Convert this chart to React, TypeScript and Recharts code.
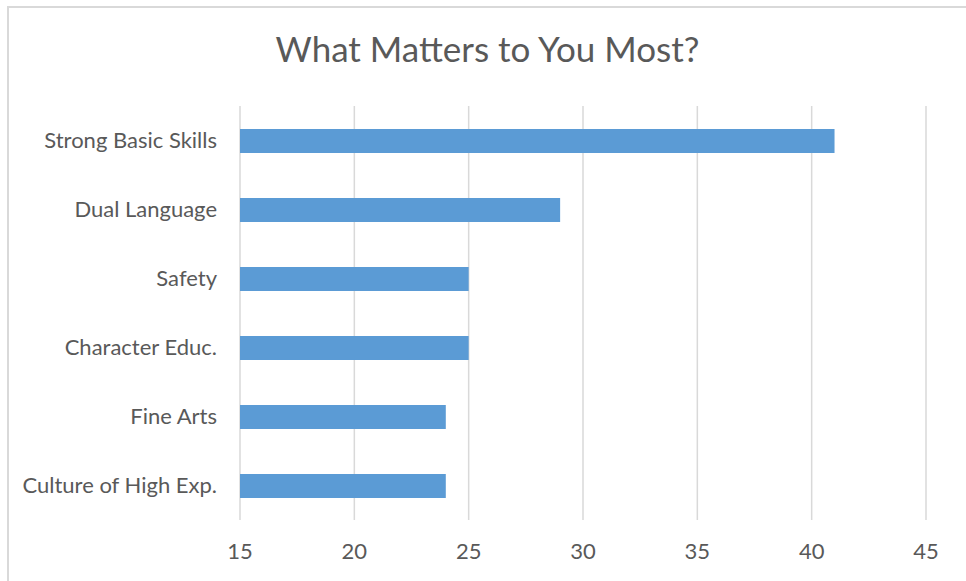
import { BarChart, Bar, XAxis, YAxis, CartesianGrid } from 'recharts'

const categories = ['Strong Basic Skills', 'Dual Language', 'Safety', 'Character Educ.', 'Fine Arts', 'Culture of High Exp.']
const values = [41, 29, 25, 25, 24, 24]
const xTicks = [15, 20, 25, 30, 35, 40, 45]

const data = categories.map((name, i) => ({ name, value: values[i] }))

const TEXT = '#595959'
const GRID = '#d9d9d9'
const FONT = 'Lato, sans-serif'

export default function App() {
  return (
    <div
      style={{
        position: 'fixed',
        left: 7,
        top: 6,
        width: 959,
        height: 575,
        borderTop: `2px solid ${GRID}`,
        borderLeft: `2px solid ${GRID}`,
        background: '#fff',
        fontFamily: FONT,
      }}
    >
      {/* title sits over the chart as plain html */}
      <div
        style={{
          position: 'absolute',
          left: 0,
          width: 957,
          top: 23,
          textAlign: 'center',
          fontSize: 35,
          lineHeight: '35px',
          color: TEXT,
        }}
      >
        What Matters to You Most?
      </div>
      <BarChart
        width={957}
        height={573}
        data={data}
        layout="vertical"
        margin={{ top: 98, right: 40, bottom: 21, left: 0 }}
      >
        <CartesianGrid horizontal={false} stroke={GRID} strokeWidth={1.5} />
        <XAxis
          type="number"
          domain={[15, 45]}
          ticks={xTicks}
          axisLine={false}
          tickLine={false}
          tickSize={0}
          tickMargin={23}
          height={40}
          tick={{ fontSize: 22, fill: TEXT, fontFamily: FONT }}
        />
        <YAxis
          type="category"
          dataKey="name"
          width={231}
          axisLine={false}
          tickLine={false}
          tickSize={0}
          tickMargin={23}
          tick={{ fontSize: 22, fill: TEXT, fontFamily: FONT }}
        />
        <Bar dataKey="value" fill="#5b9bd5" barSize={24} isAnimationActive={false} />
      </BarChart>
    </div>
  )
}
